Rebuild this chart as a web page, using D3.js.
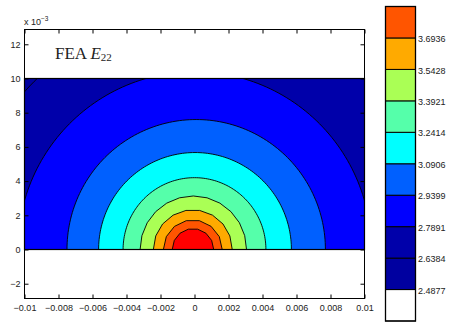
<!DOCTYPE html>
<html>
<head>
<meta charset="utf-8">
<script src="https://cdn.jsdelivr.net/npm/d3@7"></script>
<style>
  html, body { margin: 0; padding: 0; background: #fff; }
  svg { display: block; }
  .tick text { font-family: "Liberation Sans", Arial, sans-serif; font-size: 9px; fill: #222; }
</style>
</head>
<body>
<svg id="chart" width="456" height="324"></svg>
<script>
// Contour levels shown on the colour bar (strain, x 10^-3)
const levels = [2.4877, 2.6384, 2.7891, 2.9399, 3.0906, 3.2414, 3.3921, 3.5428, 3.6936];
// Colour bar limits
const barLimits = [2.337, 3.8443];
// Fill colours, lowest band to highest
const bandColors = ["#ffffff", "#0000a0", "#0000aa", "#0000ff", "#0060ff",
                    "#00ffff", "#55ffaa", "#aaff55", "#ffaa00", "#ff5500", "#ff0000"];

// Iso-lines of E22 in the half plane y >= 0 (outer to inner)
const contourLevel  = [2.6384, 2.7891, 2.9399, 3.0906, 3.2414, 3.3921, 3.5428, 3.6936, 3.8443];
const contourRadius = [0.0139, 0.0104, 0.0076, 0.00567, 0.0042, 0.00313, 0.00232, 0.00173, 0.00122];
const contourCentre = [0.0004, 0, 0.0001, 0.00003, 0, -0.00007, -0.0001, -0.0001, -0.00009];

// Meshed region and axis limits (m)
const regionX = [-0.01, 0.01];
const regionY = [0, 0.01];
const xLimits = [-0.01, 0.01];
const yLimits = [-0.002865, 0.012865];

const xTicks = [-0.01, -0.008, -0.006, -0.004, -0.002, 0, 0.002, 0.004, 0.006, 0.008, 0.01];
const yTicks = [-0.002, 0, 0.002, 0.004, 0.006, 0.008, 0.010, 0.012];

const svg = d3.select("#chart");
const plot = { left: 24.5, right: 364.5, top: 29.5, bottom: 298.5 };

const x = d3.scaleLinear().domain(xLimits).range([plot.left, plot.right]);
const y = d3.scaleLinear().domain(yLimits).range([plot.bottom, plot.top]);

const color = d3.scaleThreshold().domain(levels.concat([barLimits[1]])).range(bandColors);

// Clip to the meshed rectangle
svg.append("defs").append("clipPath").attr("id", "region")
  .append("rect")
  .attr("x", x(regionX[0])).attr("y", y(regionY[1]))
  .attr("width", x(regionX[1]) - x(regionX[0]))
  .attr("height", y(regionY[0]) - y(regionY[1]));

const field = svg.append("g").attr("clip-path", "url(#region)");

field.append("rect")
  .attr("x", x(regionX[0])).attr("y", y(regionY[1]))
  .attr("width", x(regionX[1]) - x(regionX[0]))
  .attr("height", y(regionY[0]) - y(regionY[1]))
  .attr("fill", color(levels[0]));

// Filled iso-regions: faceted near the load, smooth further out
const line = d3.line().x(p => x(p[0])).y(p => y(p[1]));
contourLevel.forEach((lev, i) => {
  const r = contourRadius[i], cx = contourCentre[i];
  const n = r < 0.002 ? 7 : r < 0.0028 ? 9 : r < 0.0035 ? 12 : 120;
  const pts = d3.range(n + 1).map(k => {
    const t = Math.PI * k / n;
    return [cx + r * Math.cos(t), r * Math.sin(t)];
  });
  field.append("path")
    .attr("d", line(pts) + "Z")
    .attr("fill", color(lev))
    .attr("stroke", "#000")
    .attr("stroke-width", 0.9)
    .attr("stroke-linejoin", "round");
});

// Outline of the meshed region
svg.append("rect")
  .attr("x", x(regionX[0])).attr("y", y(regionY[1]))
  .attr("width", x(regionX[1]) - x(regionX[0]))
  .attr("height", y(regionY[0]) - y(regionY[1]))
  .attr("fill", "none").attr("stroke", "#000").attr("stroke-width", 1.2);

// Axes with inward ticks on all four sides
const fmtX = d => d === 0 ? "0" : d3.format(".3~f")(d);
const fmtY = d => d3.format("d")(Math.round(d * 1000));
const tk = 4;

svg.append("g").attr("transform", `translate(0,${plot.bottom})`)
  .call(d3.axisBottom(x).tickValues(xTicks).tickFormat(fmtX).tickSize(-tk).tickSizeOuter(0).tickPadding(6));
svg.append("g").attr("transform", `translate(0,${plot.top})`)
  .call(d3.axisTop(x).tickValues(xTicks).tickFormat(() => "").tickSize(-tk).tickSizeOuter(0));
svg.append("g").attr("transform", `translate(${plot.left},0)`)
  .call(d3.axisLeft(y).tickValues(yTicks).tickFormat(fmtY).tickSize(-tk).tickSizeOuter(0).tickPadding(4));
svg.append("g").attr("transform", `translate(${plot.right},0)`)
  .call(d3.axisRight(y).tickValues(yTicks).tickFormat(() => "").tickSize(-tk).tickSizeOuter(0));

svg.selectAll(".domain").remove();
svg.selectAll(".tick line").attr("stroke", "#000");

svg.append("rect")
  .attr("x", plot.left).attr("y", plot.top)
  .attr("width", plot.right - plot.left).attr("height", plot.bottom - plot.top)
  .attr("fill", "none").attr("stroke", "#000").attr("stroke-width", 1);

// Exponent label
const expo = svg.append("text")
  .attr("x", 24).attr("y", 25)
  .attr("font-family", "Liberation Sans, Arial, sans-serif")
  .attr("font-size", 9).attr("fill", "#222");
expo.append("tspan").text("x 10");
expo.append("tspan").attr("dy", -4.5).attr("font-size", 6.5).text("\u22123");

// Title
const title = svg.append("text")
  .attr("x", 55).attr("y", 58.5)
  .attr("font-family", "Liberation Serif, 'Times New Roman', serif")
  .attr("font-size", 17).attr("fill", "#222");
title.append("tspan").text("FEA ");
title.append("tspan").attr("font-style", "italic").text("E");
title.append("tspan").attr("dy", 2.5).attr("font-size", 11).text("22");

// Colour bar
const cb = { left: 385.5, right: 415.5, top: 6.5, bottom: 321 };
const cy = d3.scaleLinear().domain(barLimits).range([cb.bottom, cb.top]);
const edges = [barLimits[0]].concat(levels, [barLimits[1]]);

const bar = svg.append("g");
bar.selectAll("rect.band")
  .data(d3.range(edges.length - 1))
  .join("rect")
  .attr("class", "band")
  .attr("x", cb.left)
  .attr("width", cb.right - cb.left)
  .attr("y", i => cy(edges[i + 1]))
  .attr("height", i => cy(edges[i]) - cy(edges[i + 1]))
  .attr("fill", i => bandColors[i])
  .attr("stroke", "#000")
  .attr("stroke-width", 1);

bar.append("rect")
  .attr("x", cb.left).attr("y", cb.top)
  .attr("width", cb.right - cb.left).attr("height", cb.bottom - cb.top)
  .attr("fill", "none").attr("stroke", "#000").attr("stroke-width", 1.3);

bar.selectAll("text.lab")
  .data(levels)
  .join("text")
  .attr("class", "lab")
  .attr("x", cb.right + 2.5)
  .attr("y", d => cy(d) + 1)
  .attr("dy", "0.35em")
  .attr("font-family", "Liberation Sans, Arial, sans-serif")
  .attr("font-size", 9)
  .attr("fill", "#222")
  .text(d => d3.format(".4f")(d));
</script>
</body>
</html>
